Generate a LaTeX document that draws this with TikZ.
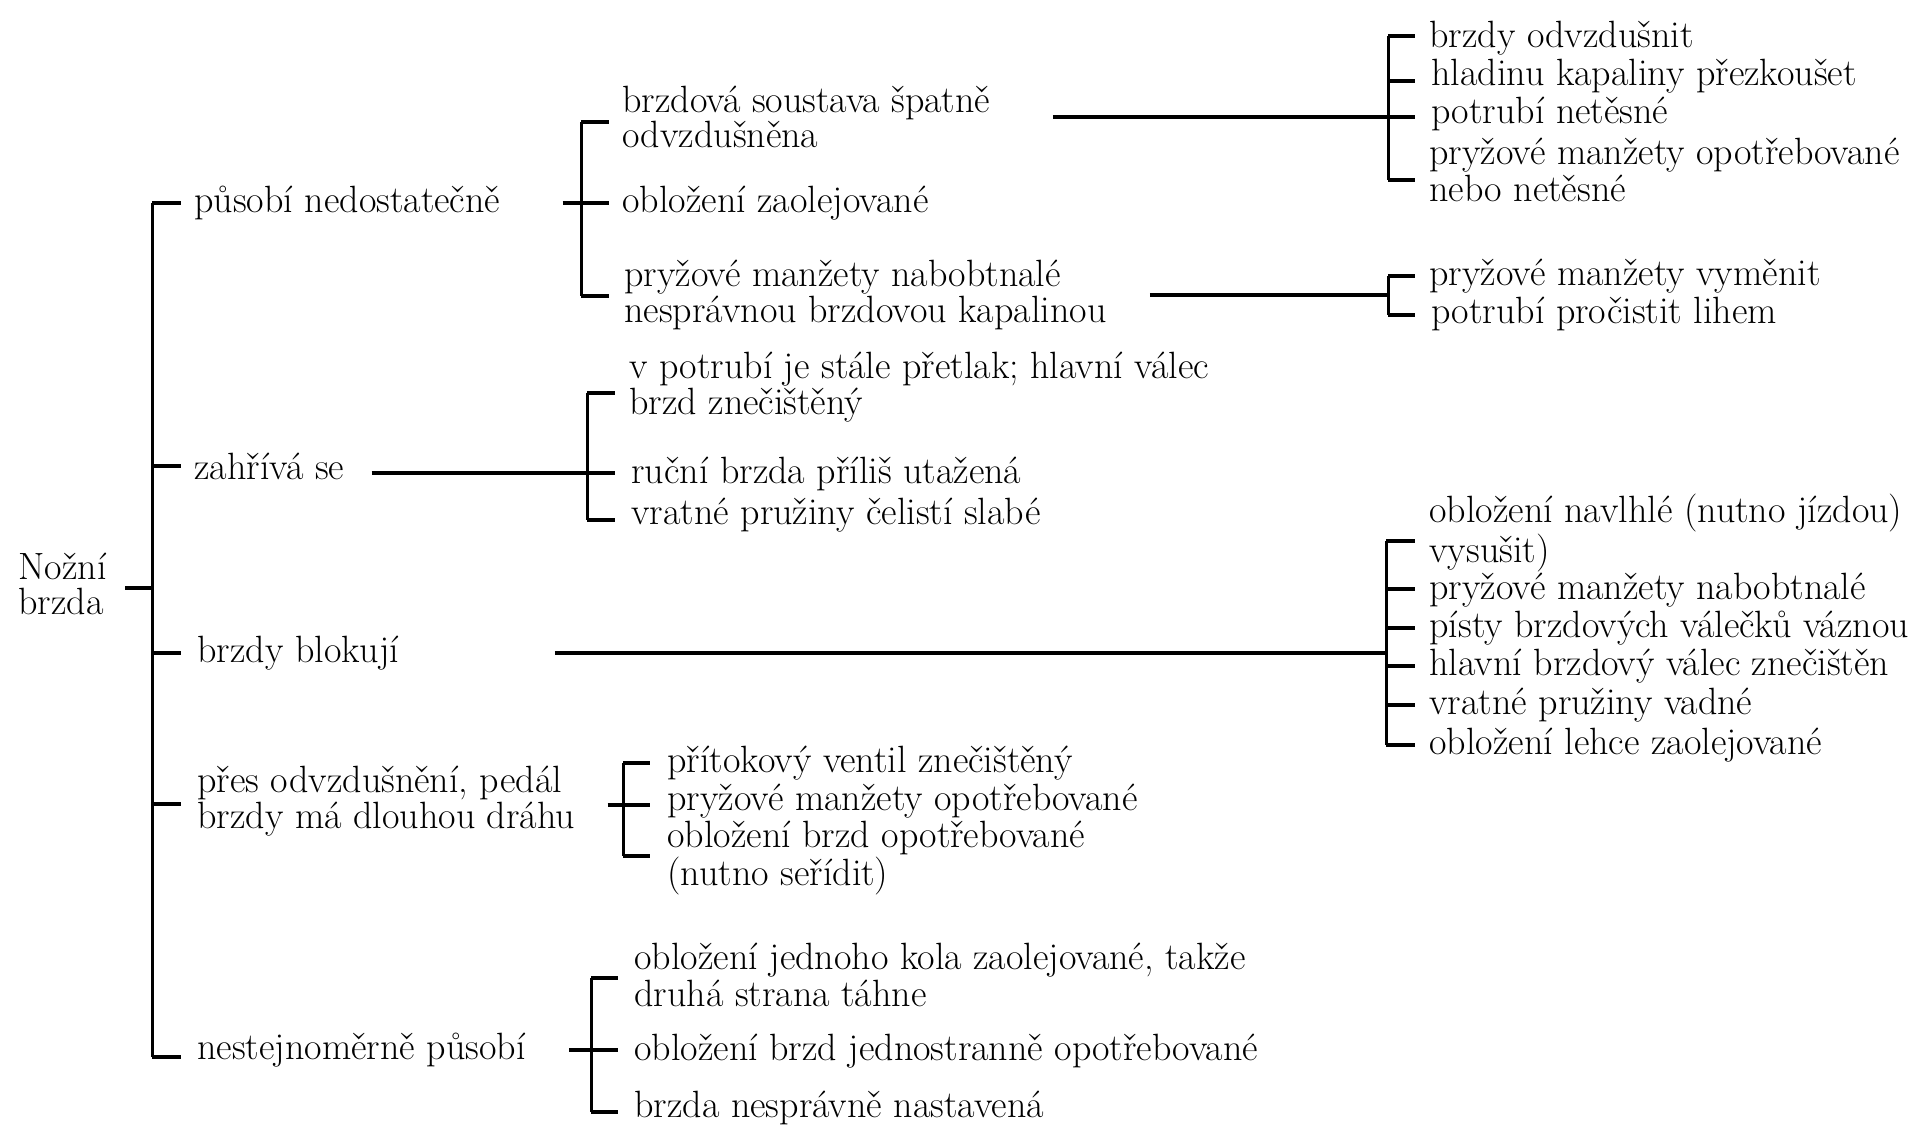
\documentclass[tikz,border=0pt]{standalone}
\begin{document}
\begin{tikzpicture}[x=0.5pt,y=-0.5pt,line width=1.5pt,
  txt/.style={anchor=west,inner xsep=6pt,inner ysep=0pt,align=left,
    font=\fontsize{19}{16.5}\selectfont},
  tick/.style={line width=2.2pt},
  spoj/.style={line width=1.8pt}]
\useasboundingbox (0,0) rectangle (1910,1143);

% hlavni vetev
\node[txt,inner xsep=0pt,font=\fontsize{19}{17.5}\selectfont] (root) at (17,584) {Nožní\\brzda};
\coordinate (r) at (125,588);
\draw[tick] (r) -- (152,588);
\draw (152,203) -- (152,1057);
\foreach \y in {203,466,653,804,1057}
  \draw[tick] (152,\y) -- (181,\y);

\node[txt] (L1) at (181,203) {působí nedostatečně};
\node[txt] (L2) at (181,466) {zahřívá se};
\node[txt] (L3) at (184,653) {brzdy blokují};
\node[txt] (L4) at (184,801) {přes odvzdušnění, pedál\\brzdy má dlouhou dráhu};
\node[txt] (L5) at (184,1050) {nestejnoměrně působí};

% působí nedostatečně
\coordinate (k1) at (581,203);
\draw[spoj] (L1.east) ++(24.5pt,0) -- (k1);
\draw (581,122) -- (581,296);
\foreach \y in {122,203,296}
  \draw[tick] (581,\y) -- (609,\y);
\node[txt] (A1) at (609,117) {brzdová soustava špatně\\odvzdušněna};
\node[txt] (A2) at (609,203) {obložení zaolejované};
\node[txt] (A3) at (611,295) {pryžové manžety nabobtnalé\\nesprávnou brzdovou kapalinou};

\coordinate (k11) at (1388,117);
\draw[spoj] (A1.east) ++(24.5pt,0) -- (k11);
\draw (1388,36) -- (1388,180);
\foreach \y in {36,81,117,180}
  \draw[tick] (1388,\y) -- (1415,\y);
\node[txt] (B1) at (1416,38) {brzdy odvzdušnit};
\node[txt] (B2) at (1418,76) {hladinu kapaliny přezkoušet};
\node[txt] (B3) at (1418,114) {potrubí netěsné};
\node[txt] (B4) at (1416,170) {pryžové manžety opotřebované\\nebo netěsné};

\coordinate (k12) at (1388,295);
\draw[spoj] (A3.east) ++(15pt,0) -- (k12);
\draw (1388,276) -- (1388,315);
\foreach \y in {276,315}
  \draw[tick] (1388,\y) -- (1415,\y);
\node[txt] (B5) at (1416,276) {pryžové manžety vyměnit};
\node[txt] (B6) at (1418,314) {potrubí pročistit lihem};

% zahřívá se
\coordinate (k2) at (587,473);
\draw[spoj] (L2.east) ++(7pt,-3.5pt) -- (k2);
\draw (587,393) -- (587,520);
\foreach \y in {393,473,520}
  \draw[tick] (587,\y) -- (615,\y);
\node[txt] (C1) at (616,387) {v potrubí je stále přetlak; hlavní válec\\brzd znečištěný};
\node[txt] (C2) at (618,474) {ruční brzda příliš utažená};
\node[txt] (C3) at (618,515) {vratné pružiny čelistí slabé};

% brzdy blokují
\coordinate (k3) at (1386,653);
\draw[spoj] (L3.east) ++(71pt,0) -- (k3);
\draw (1386,541) -- (1386,745);
\foreach \y in {541,589,628,666,705,745}
  \draw[tick] (1386,\y) -- (1415,\y);
\node[txt] (D1) at (1416,533) {obložení navlhlé (nutno jízdou)\\vysušit)};
\node[txt] (D2) at (1416,590) {pryžové manžety nabobtnalé};
\node[txt] (D3) at (1416,628) {písty brzdových válečků váznou};
\node[txt] (D4) at (1416,666) {hlavní brzdový válec znečištěn};
\node[txt] (D5) at (1416,705) {vratné pružiny vadné};
\node[txt] (D6) at (1416,745) {obložení lehce zaolejované};

% přes odvzdušnění
\coordinate (k4) at (623,805);
\draw[spoj] (L4.east) ++(9.5pt,-2pt) -- (k4);
\draw (623,763) -- (623,856);
\foreach \y in {763,805,856}
  \draw[tick] (623,\y) -- (650,\y);
\node[txt] (E1) at (654,763) {přítokový ventil znečištěný};
\node[txt] (E2) at (654,801) {pryžové manžety opotřebované};
\node[txt] (E3) at (654,858) {obložení brzd opotřebované\\(nutno seřídit)};

% nestejnoměrně působí
\coordinate (k5) at (591,1050);
\draw[spoj] (L5.east) ++(15pt,0) -- (k5);
\draw (591,978) -- (591,1112);
\foreach \y in {978,1050,1112}
  \draw[tick] (591,\y) -- (618,\y);
\node[txt] (F1) at (621,975) {obložení jednoho kola zaolejované, takže\\druhá strana táhne};
\node[txt] (F2) at (621,1051) {obložení brzd jednostranně opotřebované};
\node[txt] (F3) at (621,1108) {brzda nesprávně nastavená};
\end{tikzpicture}
\end{document}
